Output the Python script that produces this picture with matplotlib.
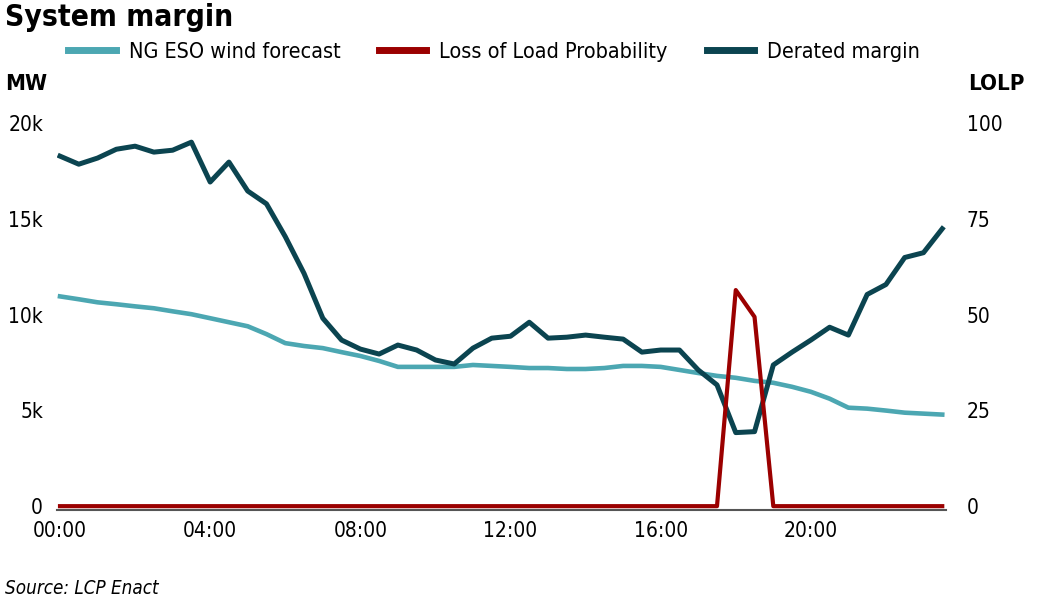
import matplotlib
matplotlib.use("Agg")
import matplotlib.pyplot as plt
from matplotlib.ticker import FixedLocator

plt.rcParams['font.family'] = ['DejaVu Sans']
plt.rcParams['font.stretch'] = 'condensed'

# Half-hourly settlement periods (00:00 .. 23:30)
periods = list(range(48))
tick_positions = [0, 8, 16, 24, 32, 40]
tick_labels = ["00:00", "04:00", "08:00", "12:00", "16:00", "20:00"]

wind_forecast = [10950, 10800, 10640, 10540, 10430, 10330, 10170, 10020, 9810, 9600,
                 9390, 8980, 8510, 8360, 8250, 8040, 7840, 7580, 7270, 7270,
                 7270, 7270, 7370, 7320, 7270, 7210, 7210, 7160, 7160, 7210,
                 7320, 7320, 7270, 7110, 6950, 6800, 6700, 6540, 6440, 6230,
                 5970, 5610, 5140, 5090, 4990, 4880, 4830, 4780]

derated_margin = [18270, 17850, 18170, 18630, 18790, 18480, 18580, 19000, 16920, 17960,
                  16450, 15780, 14070, 12150, 9810, 8670, 8200, 7940, 8410, 8150,
                  7630, 7420, 8250, 8770, 8870, 9600, 8770, 8820, 8930, 8820,
                  8720, 8040, 8150, 8150, 7110, 6330, 3840, 3890, 7370, 8040,
                  8670, 9340, 8930, 11050, 11570, 12980, 13230, 14480]

lolp = [0] * 36 + [56.4, 49.4] + [0] * 10

c_wind = "#4ca7b2"
c_lolp = "#9b0000"
c_margin = "#0b4450"

fig = plt.figure(figsize=(10.49, 6.09), dpi=100)
ax = fig.add_axes([57 / 1049, 1 - 510 / 609, (946 - 57) / 1049, (510 - 123) / 609])
ax2 = ax.twinx()

ax.plot(periods, wind_forecast, color=c_wind, lw=3.3, zorder=2,
        label="NG ESO wind forecast")
ax.plot(periods, derated_margin, color=c_margin, lw=3.6, zorder=3, label="Derated margin")
ax2.plot(periods, lolp, color=c_lolp, lw=3.0, zorder=4, label="Loss of Load Probability",
         clip_on=False)

ymin = -200
ax.set_ylim(ymin, 20000)
ax2.set_ylim(ymin / 200, 100)
ax.set_xlim(-0.16, 47.2)

ax.yaxis.set_major_locator(FixedLocator([0, 5000, 10000, 15000, 20000]))
ax.set_yticklabels(["0", "5k", "10k", "15k", "20k"])
ax2.yaxis.set_major_locator(FixedLocator([0, 25, 50, 75, 100]))
ax2.set_yticklabels(["0", "25", "50", "75", "100"])
ax.xaxis.set_major_locator(FixedLocator(tick_positions))
ax.set_xticklabels(tick_labels)

for a in (ax, ax2):
    for s in ("top", "left", "right", "bottom"):
        a.spines[s].set_visible(False)
    a.tick_params(length=0, labelsize=15)
ax.spines["bottom"].set_visible(True)
ax.spines["bottom"].set_color("#555555")
ax.spines["bottom"].set_linewidth(1.5)
ax.tick_params(axis="y", pad=10)
ax.tick_params(axis="x", pad=8)
ax2.tick_params(axis="y", pad=15)
ax2.set_zorder(ax.get_zorder() + 1)
ax2.patch.set_visible(False)

fig.text(5 / 1049, 1 - 17 / 609, "System margin", fontsize=21.5, fontweight="bold",
         va="center", ha="left")
fig.text(5 / 1049, 1 - 84 / 609, "MW", fontsize=16, fontweight="bold", va="center", ha="left")
fig.text(1025 / 1049, 1 - 84 / 609, "LOLP", fontsize=16, fontweight="bold", va="center",
         ha="right")
fig.text(5 / 1049, 1 - 588 / 609, "Source: LCP Enact", fontsize=13.5, style="italic",
         va="center", ha="left")

h1, l1 = ax.get_legend_handles_labels()
h2, l2 = ax2.get_legend_handles_labels()
handles = [h1[0], h2[0], h1[1]]
labels = [l1[0], l2[0], l1[1]]
leg = fig.legend(handles, labels, loc="center", bbox_to_anchor=(494 / 1049, 1 - 52 / 609),
                 ncol=3, frameon=False, fontsize=15.5, handlelength=2.2, handletextpad=0.6,
                 columnspacing=1.8)
for line in leg.get_lines():
    line.set_linewidth(5)

fig.savefig("out.png", dpi=100)
